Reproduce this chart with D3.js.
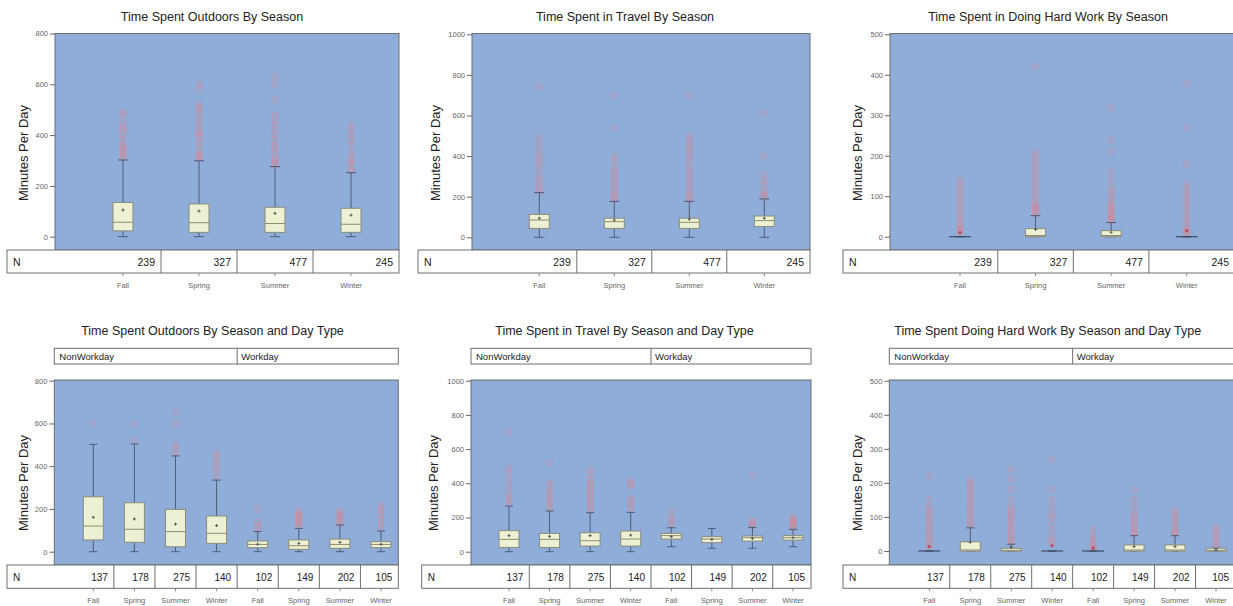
<!DOCTYPE html>
<html><head><meta charset="utf-8">
<script src="https://cdn.jsdelivr.net/npm/d3@7"></script>
<style>body{margin:0;background:#fff;} svg{display:block;font-family:"Liberation Sans",Arial,sans-serif;}</style>
</head><body><svg id="c" width="1233" height="606"></svg>
<script>
// ---------- DATA ----------
const seasons = ["Fall","Spring","Summer","Winter"];
const dayTypes = ["NonWorkday","Workday"];
const yLabel = "Minutes Per Day";

const titles = [
  "Time Spent Outdoors By Season",
  "Time Spent in Travel By Season",
  "Time Spent in Doing Hard Work By Season",
  "Time Spent Outdoors By Season and Day Type",
  "Time Spent in Travel By Season and Day Type",
  "Time Spent Doing Hard Work By Season and Day Type"
];

const ticksOutdoors = [0,200,400,600,800];
const ticksTravel = [0,200,400,600,800,1000];
const ticksHardWork = [0,100,200,300,400,500];

const nBySeason = [239,327,477,245];
const nBySeasonDay = [137,178,275,140,102,149,202,105];

// box stats per category: [whiskerLow, q1, median, q3, whiskerHigh, mean]
const outdoorsSeason = [[0,23,57,135,302,105],[0,17,55,129,299,101],[0,17,52,116,276,92],[0,17,49,112,252,85]];
const travelSeason = [[0,44,85,113,220,94],[0,44,77,94,177,85],[0,44,74,94,177,89],[0,53,82,105,189,94]];
const hardWorkSeason = [[0,0,0,0,0,10],[0,0,3,20,52,18],[0,0,3,15,35,11],[0,0,0,0,0,15]];

const outdoorsSeasonDay = [[0,55,120,257,502,161],[0,44,105,229,504,153],[0,23,94,198,448,129],[0,39,86,167,335,122],
  [0,19,34,50,94,35],[0,11,28,55,109,39],[0,16,34,59,125,44],[0,19,34,47,97,35]];
const travelSeasonDay = [[0,25,72,123,267,94],[0,25,72,107,238,90],[0,33,64,111,228,94],[0,33,74,121,230,97],
  [29,74,94,107,140,88],[20,53,74,88,136,72],[20,62,82,92,142,78],[29,68,82,94,131,82]];
const hardWorkSeasonDay = [[0,0,0,0,0,13],[0,0,3,27,68,26],[0,0,2,8,20,11],[0,0,0,0,0,16],
  [0,0,0,0,0,8],[0,0,3,18,45,13],[0,0,3,18,45,13],[0,0,2,8,8,5]];

// outliers per category
const outdoorsSeasonOut = [
  [310,320,330,340,350,360,380,400,420,430,450,480,490],
  [305,315,320,330,350,370,390,400,410,420,440,460,480,500,510,520,580,600],
  [280,290,300,310,330,350,360,380,400,420,440,460,480,540,600,630],
  [260,270,290,300,310,330,360,380,400,420,440]];
const travelSeasonOut = [
  [225,240,260,280,300,330,360,380,400,430,460,490,740],
  [185,195,210,230,250,270,290,310,330,350,380,400,540,700],
  [185,195,210,230,250,270,290,310,330,350,380,400,420,440,460,480,500,700],
  [195,205,215,230,260,280,310,400,610]];
const hardWorkSeasonOut = [
  [10,15,20,25,30,40,50,60,70,80,90,100,110,120,130,140],
  [55,60,65,70,75,80,90,100,110,120,130,140,150,160,170,180,190,200,210,420],
  [38,42,46,50,55,60,65,70,75,80,90,100,110,120,140,160,210,240,320],
  [5,10,15,20,30,40,50,60,70,80,90,100,110,120,130,180,270,380]];
const outdoorsSeasonDayOut = [
  [600],[520,600],[460,480,500,600,650],[350,380,400,420,440,460],
  [110,120,140,200],[120,130,140,150,160,170,180,190],[130,140,150,160,170,180,190],[110,130,150,170,190,200,220]];
const travelSeasonDayOut = [
  [280,300,320,340,380,420,460,490,700],[250,270,290,310,330,350,380,400,520],
  [240,260,280,300,320,340,360,380,400,420,450,480],[250,270,290,310,380,400,420],
  [160,180,200,240],[],[150,160,170,180,450],[140,150,160,170,180,190,200]];
const hardWorkSeasonDayOut = [
  [15,20,30,40,50,60,70,80,90,100,110,120,130,150,220],
  [75,80,90,100,110,120,130,140,150,160,170,180,190,200,210],
  [25,30,40,50,60,70,80,90,100,110,120,130,150,180,210,240],
  [20,30,40,60,80,100,110,130,150,180,270],
  [10,15,20,30,40,50,65],
  [50,55,60,70,80,90,100,110,130,150,180],
  [50,55,60,70,80,90,100,110,120],
  [12,20,30,40,50,60,70]];

// ---------- LAYOUT ----------
const seasonDayKeys = dayTypes.flatMap(d => seasons.map(s => d + "|" + s));
const panels = [
  {title:titles[0], tx:212, ty:21, px0:55, px1:399, py0:33.5, py1:250, y0:236.7, yTop:33.5, ticks:ticksOutdoors,
   c0:123, c1:351, tb0:7, tb1:399, tby1:273, catY:288, lx:23, ly:153, keys:seasons, n:nBySeason, stats:outdoorsSeason, out:outdoorsSeasonOut},
  {title:titles[1], tx:625, ty:21, px0:472, px1:810, py0:33.5, py1:250, y0:237.3, yTop:34.3, ticks:ticksTravel,
   c0:539.3, c1:764.3, tb0:418, tb1:810, tby1:273, catY:288, lx:435, ly:153, keys:seasons, n:nBySeason, stats:travelSeason, out:travelSeasonOut},
  {title:titles[2], tx:1048, ty:21, px0:890, px1:1240, py0:33.5, py1:250, y0:236.7, yTop:34.3, ticks:ticksHardWork,
   c0:960, c1:1186.7, tb0:843, tb1:1240, tby1:273, catY:288, lx:857, ly:153, keys:seasons, n:nBySeason, stats:hardWorkSeason, out:hardWorkSeasonOut},
  {title:titles[3], tx:212.5, ty:335, px0:54.3, px1:398.3, py0:380, py1:565, y0:551.7, yTop:380.7, ticks:ticksOutdoors,
   c0:93.3, c1:381, tb0:7, tb1:398.3, tby1:588.3, catY:603, lx:23, ly:483, keys:seasonDayKeys, n:nBySeasonDay, stats:outdoorsSeasonDay, out:outdoorsSeasonDayOut,
   strip:{y0:348.3, y1:364}},
  {title:titles[4], tx:624.5, ty:335, px0:471, px1:811, py0:380, py1:565, y0:551.7, yTop:380.7, ticks:ticksTravel,
   c0:509, c1:793, tb0:421.7, tb1:811, tby1:588.3, catY:603, lx:433, ly:483, keys:seasonDayKeys, n:nBySeasonDay, stats:travelSeasonDay, out:travelSeasonDayOut,
   strip:{y0:348.3, y1:364}},
  {title:titles[5], tx:1047.7, ty:335, px0:889.3, px1:1240, py0:380, py1:565, y0:551, yTop:380.7, ticks:ticksHardWork,
   c0:929.3, c1:1216, tb0:843, tb1:1240, tby1:588.3, catY:603, lx:857, ly:483, keys:seasonDayKeys, n:nBySeasonDay, stats:hardWorkSeasonDay, out:hardWorkSeasonDayOut,
   strip:{y0:348.3, y1:364}}
];

const svg = d3.select("#c");
const C = {bg:"#8fadd9", border:"#6f6f6f", boxFill:"#eef0d3", boxStroke:"#8b8b7c", median:"#8e8e6c",
  whisker:"#4e5c78", mean:"#555", out:"#f07e7e", text:"#222", tick:"#666"};

panels.forEach(p => {
  const g = svg.append("g");
  const ticks = p.ticks;
  const y = d3.scaleLinear().domain([0, ticks[ticks.length-1]]).range([p.y0, p.yTop]);
  const x = d3.scalePoint().domain(p.keys).range([p.c0, p.c1]);

  // title
  g.append("text").attr("x", p.tx).attr("y", p.ty).attr("text-anchor","middle")
    .attr("font-size", 12.5).attr("fill", C.text).text(p.title);

  // strip header
  if (p.strip) {
    const mid = (x(p.keys[3]) + x(p.keys[4])) / 2;
    g.append("rect").attr("x", p.px0).attr("y", p.strip.y0).attr("width", p.px1 - p.px0).attr("height", p.strip.y1 - p.strip.y0)
      .attr("fill","#fff").attr("stroke", C.border).attr("stroke-width",1);
    g.append("line").attr("x1", mid).attr("x2", mid).attr("y1", p.strip.y0).attr("y2", p.strip.y1).attr("stroke", C.border);
    g.append("text").attr("x", p.px0 + 5).attr("y", p.strip.y1 - 4).attr("font-size", 9.5).attr("fill", C.text).text(dayTypes[0]);
    g.append("text").attr("x", mid + 4).attr("y", p.strip.y1 - 4).attr("font-size", 9.5).attr("fill", C.text).text(dayTypes[1]);
  }

  // plot background
  g.append("rect").attr("x", p.px0).attr("y", p.py0).attr("width", p.px1 - p.px0).attr("height", p.py1 - p.py0)
    .attr("fill", C.bg).attr("stroke", C.border).attr("stroke-width", 1);

  // y axis
  const ax = g.append("g").attr("transform", `translate(${p.px0},0)`)
    .call(d3.axisLeft(y).tickValues(ticks).tickSize(5).tickPadding(2).tickFormat(d3.format("d")));
  ax.select(".domain").remove();
  ax.selectAll("line").attr("stroke", C.tick);
  ax.selectAll("text").attr("font-size", 7.5).attr("fill", "#666").attr("font-family", "'Liberation Sans',Arial,sans-serif");

  // y label
  g.append("text").attr("transform", `translate(${p.lx + 5},${p.ly}) rotate(-90)`).attr("text-anchor","middle")
    .attr("font-size", 13).attr("fill", C.text).text(yLabel);

  // outliers
  p.keys.forEach((k, i) => {
    g.selectAll(null).data(p.out[i]).enter().append("circle")
      .attr("cx", x(k)).attr("cy", v => y(v)).attr("r", 3.2)
      .attr("fill", C.out).attr("fill-opacity", 0.12).attr("stroke", C.out).attr("stroke-opacity", 0.28).attr("stroke-width", 1);
  });

  // boxes
  const bw = 20, cw = p.keys.length > 4 ? 8 : 10;
  p.keys.forEach((k, i) => {
    const [lo, q1, med, q3, hi, mean] = p.stats[i];
    const cx = x(k);
    const bg = g.append("g");
    bg.append("line").attr("x1", cx).attr("x2", cx).attr("y1", y(hi)).attr("y2", y(q3)).attr("stroke", C.whisker);
    bg.append("line").attr("x1", cx).attr("x2", cx).attr("y1", y(q1)).attr("y2", y(lo)).attr("stroke", C.whisker);
    bg.append("line").attr("x1", cx - cw/2).attr("x2", cx + cw/2).attr("y1", y(hi)).attr("y2", y(hi)).attr("stroke", C.whisker);
    bg.append("line").attr("x1", cx - cw/2).attr("x2", cx + cw/2).attr("y1", y(lo)).attr("y2", y(lo)).attr("stroke", C.whisker);
    if (q3 > q1) {
      bg.append("rect").attr("x", cx - bw/2).attr("y", y(q3)).attr("width", bw).attr("height", y(q1) - y(q3))
        .attr("fill", C.boxFill).attr("stroke", C.boxStroke).attr("stroke-width", 1);
      bg.append("line").attr("x1", cx - bw/2).attr("x2", cx + bw/2).attr("y1", y(med)).attr("y2", y(med)).attr("stroke", C.median);
    } else {
      bg.append("line").attr("x1", cx - bw/2 - 1).attr("x2", cx + bw/2 + 1).attr("y1", y(q1)).attr("y2", y(q1)).attr("stroke", "#3e4a60").attr("stroke-width", 1.2);
    }
    bg.append("path").attr("d", `M${cx-1.5},${y(mean)}h3M${cx},${y(mean)-1.5}v3`).attr("stroke", C.mean).attr("stroke-width", 1);
    if (q3 === q1) {
      bg.append("circle").attr("cx", cx).attr("cy", y(mean)).attr("r", 1.6).attr("fill", "#c0506a");
    }
  });

  // N table
  const tb = g.append("g");
  tb.append("rect").attr("x", p.tb0).attr("y", p.py1).attr("width", p.tb1 - p.tb0).attr("height", p.tby1 - p.py1)
    .attr("fill", "#fff").attr("stroke", C.border).attr("stroke-width", 1);
  const nk = p.keys.length;
  const rights = p.keys.map((k, i) => i < nk - 1 ? (x(k) + x(p.keys[i+1])) / 2 : p.px1);
  const fs = nk > 4 ? 10 : 10.5;
  rights.forEach((r, i) => {
    if (i < nk - 1) tb.append("line").attr("x1", r).attr("x2", r).attr("y1", p.py1).attr("y2", p.tby1).attr("stroke", C.border);
    tb.append("text").attr("x", Math.min(r, 1235) - 6).attr("y", (p.py1 + p.tby1)/2 + 4).attr("text-anchor","end")
      .attr("font-size", fs).attr("fill", C.text).text(p.n[i]);
  });
  tb.append("text").attr("x", p.tb0 + 6).attr("y", (p.py1 + p.tby1)/2 + 4).attr("font-size", fs).attr("fill", C.text).text("N");

  // category ticks and labels
  p.keys.forEach(k => {
    const cx = x(k);
    g.append("line").attr("x1", cx).attr("x2", cx).attr("y1", p.tby1).attr("y2", p.tby1 + 3).attr("stroke", "#888");
    g.append("text").attr("x", cx).attr("y", p.catY).attr("text-anchor","middle").attr("font-size", 7.5).attr("fill", "#666")
      .text(k.includes("|") ? k.split("|")[1] : k);
  });
});
</script></body></html>
